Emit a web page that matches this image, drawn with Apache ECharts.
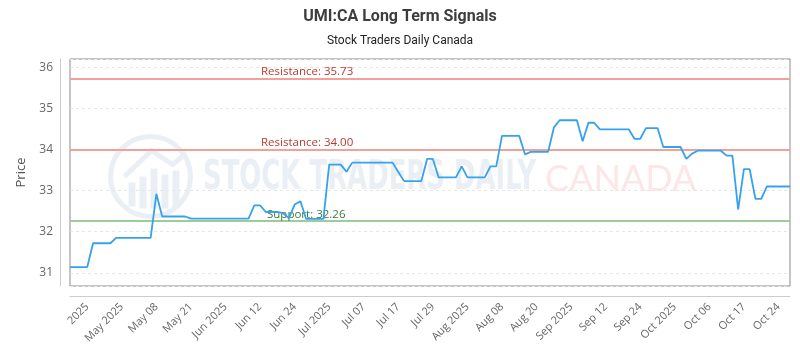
<!DOCTYPE html>
<html>
<head>
<meta charset="utf-8">
<script src="https://cdn.jsdelivr.net/npm/echarts@6/dist/echarts.min.js"></script>
<style>
  html, body { margin: 0; padding: 0; background: #fff; }
  #chart { width: 800px; height: 350px; }
</style>
</head>
<body>
<div id="chart"></div>
<script>
const titleText = "UMI:CA Long Term Signals";
const subtitleText = "Stock Traders Daily Canada";

const tickLabels = ["2025", "May 2025", "May 08", "May 21", "Jun 2025", "Jun 12", "Jun 24",
  "Jul 2025", "Jul 07", "Jul 17", "Jul 29", "Aug 2025", "Aug 08", "Aug 20", "Sep 2025",
  "Sep 12", "Sep 24", "Oct 2025", "Oct 06", "Oct 17", "Oct 24"];
const firstTickIndex = 3;
const tickStep = 6;

const prices = [
  31.14, 31.14, 31.14, 31.14,
  31.72, 31.72, 31.72, 31.72,
  31.85, 31.85, 31.85, 31.85, 31.85, 31.85, 31.85,
  32.92,
  32.37, 32.37, 32.37, 32.37, 32.37,
  32.32, 32.32, 32.32, 32.32, 32.32, 32.32, 32.32, 32.32, 32.32, 32.32, 32.32,
  32.64, 32.64,
  32.48, 32.48, 32.48,
  32.45,
  32.33,
  32.66,
  32.74,
  32.31, 32.31, 32.31, 32.31,
  33.63, 33.63, 33.63,
  33.46,
  33.68, 33.68, 33.68, 33.68, 33.68, 33.68, 33.68, 33.68,
  33.45,
  33.23, 33.23, 33.23, 33.23,
  33.77, 33.77,
  33.32, 33.32, 33.32, 33.32,
  33.59,
  33.32, 33.32, 33.32, 33.32,
  33.59, 33.59,
  34.33, 34.33, 34.33, 34.33,
  33.88,
  33.94, 33.94, 33.94, 33.94,
  34.53,
  34.71, 34.71, 34.71, 34.71,
  34.20,
  34.65, 34.65,
  34.49, 34.49, 34.49, 34.49, 34.49, 34.49,
  34.26, 34.26,
  34.52, 34.52, 34.52,
  34.06, 34.06, 34.06, 34.06,
  33.77,
  33.90,
  33.97, 33.97, 33.97, 33.97, 33.97,
  33.85, 33.85,
  32.54,
  33.52, 33.52,
  32.80, 32.80,
  33.10, 33.10, 33.10, 33.10, 33.10
];

const resistanceLevels = [35.73, 34.00];
const supportLevels = [32.26];
const yMin = 30.68;
const yMax = 36.2;

const categories = prices.map((_, i) => String(i));
const isTick = (i) => i >= firstTickIndex && (i - firstTickIndex) % tickStep === 0;

const chart = echarts.init(document.getElementById('chart'), null, { renderer: 'canvas' });

const markData = [];
resistanceLevels.forEach(v => markData.push({
  yAxis: v,
  lineStyle: { color: '#f1a09a', width: 2, type: 'solid' },
  label: {
    show: true, position: 'insideStartTop', formatter: 'Resistance: ' + v.toFixed(2),
    color: '#b83a32', fontSize: 11.5, fontFamily: 'Open Sans', padding: [0, 0, 0, 190], distance: 1
  }
}));
supportLevels.forEach(v => markData.push({
  yAxis: v,
  lineStyle: { color: '#9ccc9c', width: 2, type: 'solid' },
  label: {
    show: true, position: 'insideStartTop', formatter: 'Support: ' + v.toFixed(2),
    color: '#3d7a3d', fontSize: 11.5, fontFamily: 'Open Sans', padding: [0, 0, 0, 197], distance: 0
  }
}));

const wmBlue = '#eaeef5';
const option = {
  backgroundColor: '#ffffff',
  animation: false,
  title: {
    text: titleText,
    subtext: subtitleText,
    left: 'center',
    top: 4,
    itemGap: 10,
    textStyle: { fontFamily: 'Roboto', fontWeight: 'bold', fontSize: 16, color: '#3d3d3d' },
    subtextStyle: { fontFamily: 'Roboto', fontSize: 12, color: '#222' }
  },
  graphic: [
    {
      type: 'circle', left: 108, top: 134, z: -10, silent: true,
      shape: { r: 40 },
      style: { fill: 'rgba(0,0,0,0)', stroke: wmBlue, lineWidth: 5 }
    },
    {
      type: 'group', left: 122, top: 148, z: -10, silent: true,
      children: [
        { type: 'polyline', shape: { points: [[0, 30], [27, 4], [48, 18], [58, 10]] }, style: { stroke: wmBlue, lineWidth: 5, fill: 'none' } },
        { type: 'rect', shape: { x: 4, y: 36, width: 7, height: 24 }, style: { fill: wmBlue } },
        { type: 'rect', shape: { x: 15, y: 30, width: 7, height: 32 }, style: { fill: wmBlue } },
        { type: 'rect', shape: { x: 26, y: 22, width: 7, height: 40 }, style: { fill: wmBlue } },
        { type: 'rect', shape: { x: 37, y: 28, width: 7, height: 34 }, style: { fill: wmBlue } },
        { type: 'rect', shape: { x: 48, y: 24, width: 7, height: 38 }, style: { fill: wmBlue } }
      ]
    },
    {
      type: 'text', left: 203, top: 159, z: -10, silent: true, scaleX: 0.72,
      style: { text: 'STOCK TRADERS DAILY', fill: wmBlue, font: 'bold 40px "DejaVu Sans Condensed"' }
    },
    {
      type: 'text', left: 545, top: 161, z: -10, silent: true,
      style: { text: 'CANADA', fill: '#fde6e6', font: '36px "Lato"' }
    }
  ],
  grid: {
    left: 70, right: 10, top: 59, bottom: 64,
    show: true, borderColor: '#8a8a8a', borderWidth: 1, backgroundColor: 'transparent'
  },
  xAxis: {
    type: 'category',
    data: categories,
    boundaryGap: false,
    offset: 10,
    axisLine: { show: true, lineStyle: { color: '#cccccc', width: 1 } },
    axisTick: { show: false },
    splitLine: { show: false },
    axisLabel: {
      rotate: 45,
      interval: (i) => isTick(i),
      formatter: (v, i) => isTick(i) ? tickLabels[(i - firstTickIndex) / tickStep] : '',
      color: '#666', fontSize: 11, fontFamily: 'Open Sans', margin: 9
    }
  },
  yAxis: {
    type: 'value',
    min: yMin,
    max: yMax,
    offset: 10,
    name: 'Price',
    nameLocation: 'middle',
    nameGap: 32,
    nameTextStyle: { color: '#555', fontSize: 13, fontFamily: 'Open Sans' },
    axisLine: { show: true, lineStyle: { color: '#cccccc', width: 1 } },
    axisTick: { show: false },
    axisLabel: { color: '#666', fontSize: 12, fontFamily: 'Open Sans', margin: 7, showMinLabel: false, showMaxLabel: false },
    splitLine: { show: true, lineStyle: { color: '#e6e6e6', type: [3, 3], width: 1 } }
  },
  series: [{
    type: 'line',
    data: prices,
    showSymbol: false,
    symbol: 'none',
    lineStyle: { color: '#36a2eb', width: 1.8 },
    z: 5,
    markLine: {
      silent: true,
      symbol: ['none', 'none'],
      animation: false,
      data: markData
    }
  }]
};

chart.setOption(option);
</script>
</body>
</html>
